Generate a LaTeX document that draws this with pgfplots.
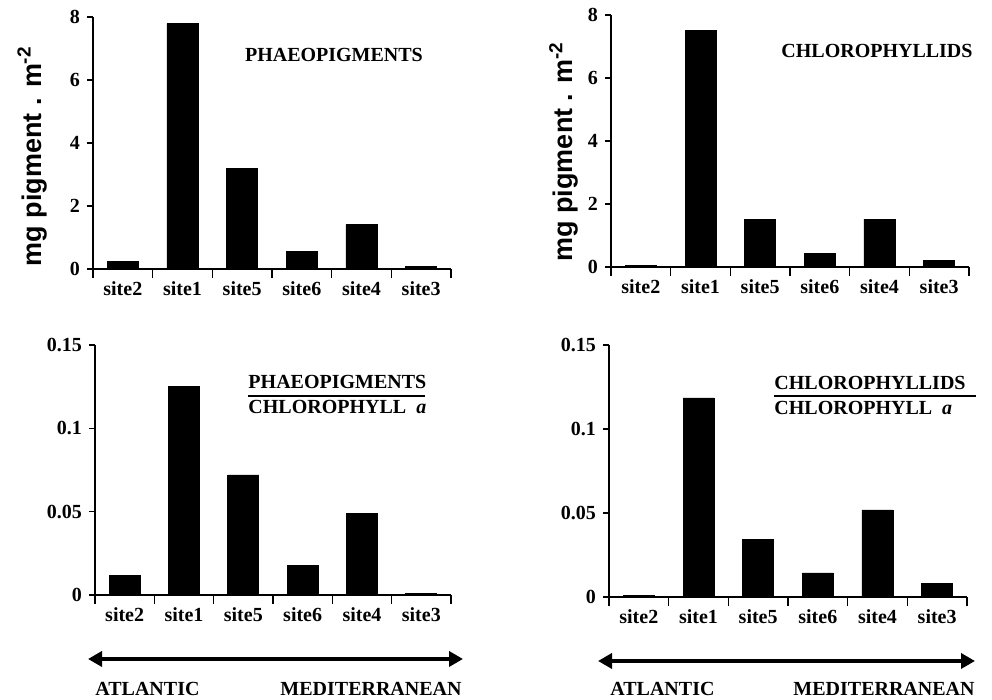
\documentclass[border=0pt]{standalone}
\usepackage{pgfplots}
\pgfplotsset{compat=1.18}
\usepackage{fontspec}
\setmainfont{Liberation Serif}
\setsansfont{Liberation Sans}
\usetikzlibrary{arrows.meta}
\pgfplotsset{
  panel/.style={
    scale only axis, width=179pt, height=126pt,
    xmin=-0.5, xmax=5.5, ymin=0,
    axis lines=left, axis line style={-, line width=0.8pt},
    xtick={0,...,5}, xticklabels={site2,site1,site5,site6,site4,site3},
    minor xtick={-0.5,0.5,1.5,2.5,3.5,4.5,5.5},
    major x tick style={draw=none},
    minor x tick style={line width=0.8pt, black},
    y tick style={line width=0.8pt, black},
    major tick length=3pt, minor tick length=4.5pt,
    tick align=outside,
    ybar, bar width=15.5pt,
    tick label style={font=\bfseries},
    clip=false,
    /pgf/number format/assume math mode=true,
  },
  ylab/.style={ylabel={mg pigment . m\textsuperscript{-2}},
    ylabel style={font=\sffamily\bfseries\fontsize{13.5}{16}\selectfont}},
}
\begin{document}
\begin{tikzpicture}
\useasboundingbox (0,0) rectangle (496pt,350pt);
% top left
\begin{axis}[panel, at={(46.5pt,215.5pt)}, anchor=south west, ymax=8,
  ytick={0,2,4,6,8}, yticklabels={0,2,4,6,8}, ylab,
  ylabel style={at={(axis description cs:-0.17,0.448)}, anchor=center}]
\addplot[fill=black, draw=black] coordinates {(0,0.25) (1,7.8) (2,3.2) (3,0.55) (4,1.4) (5,0.08)};
\node[font=\bfseries] at (axis description cs:0.673,0.849) {PHAEOPIGMENTS};
\end{axis}
% top right
\begin{axis}[panel, at={(305.5pt,216.5pt)}, anchor=south west, ymax=8,
  ytick={0,2,4,6,8}, yticklabels={0,2,4,6,8}, ylab,
  ylabel style={at={(axis description cs:-0.132,0.458)}, anchor=center}]
\addplot[fill=black, draw=black] coordinates {(0,0.05) (1,7.5) (2,1.5) (3,0.42) (4,1.52) (5,0.2)};
\node[font=\bfseries] at (axis description cs:0.743,0.857) {CHLOROPHYLLIDS};
\end{axis}
% bottom left
\begin{axis}[panel, at={(47.5pt,52.5pt)}, anchor=south west, width=178pt, height=125pt, ymax=0.15,
  ytick={0,0.05,0.1,0.15}, yticklabels={0,0.05,0.1,0.15}]
\addplot[fill=black, draw=black] coordinates {(0,0.0115) (1,0.125) (2,0.072) (3,0.0175) (4,0.049) (5,0.001)};
\node[font=\bfseries, anchor=base west, inner sep=0pt] at (axis description cs:0.43,0.824) {PHAEOPIGMENTS};
\draw[line width=0.7pt] (axis description cs:0.43,0.796) -- (axis description cs:0.927,0.796);
\node[font=\bfseries, anchor=base west, inner sep=0pt] at (axis description cs:0.43,0.724) {CHLOROPHYLL\enspace\textit{a}};
\end{axis}
% bottom right
\begin{axis}[panel, at={(304.5pt,51.5pt)}, anchor=south west, ymax=0.15,
  ytick={0,0.05,0.1,0.15}, yticklabels={0,0.05,0.1,0.15}]
\addplot[fill=black, draw=black] coordinates {(0,0.001) (1,0.1185) (2,0.034) (3,0.0143) (4,0.0518) (5,0.0083)};
\node[font=\bfseries, anchor=base west, inner sep=0pt] at (axis description cs:0.461,0.825) {CHLOROPHYLLIDS};
\draw[line width=0.7pt] (axis description cs:0.461,0.798) -- (axis description cs:1.025,0.798);
\node[font=\bfseries, anchor=base west, inner sep=0pt] at (axis description cs:0.461,0.726) {CHLOROPHYLL\enspace\textit{a}};
\end{axis}
% arrows
\draw[line width=2pt, {Triangle[length=7pt,width=7.5pt]}-{Triangle[length=7pt,width=7.5pt]}] (44pt,20.5pt) -- (231.5pt,20.5pt);
\draw[line width=2pt, {Triangle[length=7pt,width=7.5pt]}-{Triangle[length=7pt,width=7.5pt]}] (299pt,19.5pt) -- (487.5pt,19.5pt);
\node[font=\bfseries, anchor=base west, inner sep=0pt] at (47.5pt,2pt) {ATLANTIC};
\node[font=\bfseries, anchor=base east, inner sep=0pt] at (231pt,2pt) {MEDITERRANEAN};
\node[font=\bfseries, anchor=base west, inner sep=0pt] at (305pt,2pt) {ATLANTIC};
\node[font=\bfseries, anchor=base east, inner sep=0pt] at (487.5pt,2pt) {MEDITERRANEAN};
\end{tikzpicture}
\end{document}
